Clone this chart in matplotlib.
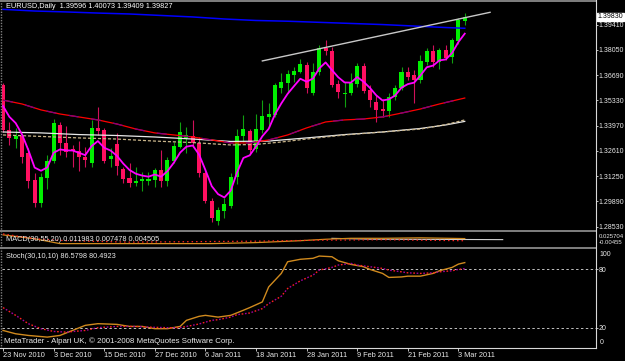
import matplotlib
matplotlib.use("Agg")
import matplotlib.pyplot as plt
from matplotlib.lines import Line2D

plt.rcParams['font.family'] = ['Liberation Sans', 'DejaVu Sans']

W, H = 625, 361
FS = 5.3
FS_AX = 5.0

# EURUSD daily, 23 Nov 2010 .. 4 Mar 2011
date_ticks = [0, 8, 16, 24, 32, 40, 48, 56, 64, 72]
date_labels = ["23 Nov 2010", "3 Dec 2010", "15 Dec 2010", "27 Dec 2010", "6 Jan 2011",
               "18 Jan 2011", "28 Jan 2011", "9 Feb 2011", "21 Feb 2011", "3 Mar 2011"]

opens = [1.3616, 1.3374, 1.3325, 1.3341, 1.3250, 1.3104, 1.2980, 1.3115, 1.3207, 1.3401,
         1.3304, 1.3271, 1.3260, 1.3228, 1.3196, 1.3385, 1.3374, 1.3217, 1.3298, 1.3164,
         1.3115, 1.3088, 1.3099, 1.3099, 1.3104, 1.3158, 1.3099, 1.3207, 1.3282, 1.3331,
         1.3341, 1.3304, 1.3142, 1.2991, 1.2883, 1.2937, 1.2964, 1.3120, 1.3341, 1.3368,
         1.3271, 1.3374, 1.3444, 1.3455, 1.3600, 1.3627, 1.3670, 1.3686, 1.3724, 1.3573,
         1.3686, 1.3816, 1.3800, 1.3622, 1.3568, 1.3573, 1.3622, 1.3719, 1.3589, 1.3525,
         1.3487, 1.3476, 1.3552, 1.3600, 1.3686, 1.3670, 1.3643, 1.3740, 1.3800, 1.3740,
         1.3805, 1.3767, 1.3853, 1.3960]
highs = [1.3627, 1.3417, 1.3385, 1.3347, 1.3277, 1.3142, 1.3142, 1.3239, 1.3433, 1.3417,
         1.3395, 1.3293, 1.3314, 1.3282, 1.3428, 1.3498, 1.3385, 1.3277, 1.3358, 1.3174,
         1.3196, 1.3174, 1.3147, 1.3147, 1.3169, 1.3266, 1.3228, 1.3309, 1.3417, 1.3390,
         1.3428, 1.3336, 1.3158, 1.3007, 1.2959, 1.3007, 1.3142, 1.3379, 1.3455, 1.3379,
         1.3460, 1.3535, 1.3519, 1.3627, 1.3681, 1.3697, 1.3713, 1.3756, 1.3740, 1.3735,
         1.3832, 1.3859, 1.3821, 1.3643, 1.3632, 1.3681, 1.3735, 1.3735, 1.3616, 1.3562,
         1.3541, 1.3573, 1.3616, 1.3713, 1.3713, 1.3697, 1.3778, 1.3816, 1.3832, 1.3816,
         1.3832, 1.3870, 1.3977, 1.4007]
lows = [1.3363, 1.3293, 1.3277, 1.3196, 1.3061, 1.2959, 1.2959, 1.3056, 1.3196, 1.3239,
        1.3228, 1.3174, 1.3153, 1.3174, 1.3174, 1.3347, 1.3196, 1.3174, 1.3131, 1.3088,
        1.3066, 1.3072, 1.3045, 1.3077, 1.3066, 1.3066, 1.3072, 1.3196, 1.3277, 1.3250,
        1.3282, 1.3120, 1.2980, 1.2878, 1.2862, 1.2899, 1.2953, 1.3083, 1.3309, 1.3250,
        1.3255, 1.3358, 1.3390, 1.3444, 1.3573, 1.3573, 1.3632, 1.3681, 1.3573, 1.3562,
        1.3670, 1.3778, 1.3605, 1.3546, 1.3498, 1.3562, 1.3605, 1.3573, 1.3498, 1.3417,
        1.3444, 1.3444, 1.3535, 1.3589, 1.3643, 1.3519, 1.3627, 1.3724, 1.3713, 1.3703,
        1.3751, 1.3735, 1.3837, 1.3941]
closes = [1.3374, 1.3331, 1.3341, 1.3228, 1.3099, 1.2980, 1.3120, 1.3207, 1.3411, 1.3304,
          1.3255, 1.3260, 1.3228, 1.3212, 1.3385, 1.3368, 1.3207, 1.3234, 1.3180, 1.3110,
          1.3088, 1.3099, 1.3110, 1.3110, 1.3158, 1.3099, 1.3212, 1.3287, 1.3363, 1.3347,
          1.3304, 1.3142, 1.2991, 1.2899, 1.2943, 1.2975, 1.3120, 1.3341, 1.3379, 1.3266,
          1.3379, 1.3449, 1.3460, 1.3616, 1.3632, 1.3676, 1.3692, 1.3729, 1.3600, 1.3686,
          1.3816, 1.3800, 1.3616, 1.3579, 1.3573, 1.3627, 1.3719, 1.3584, 1.3535, 1.3482,
          1.3476, 1.3552, 1.3600, 1.3686, 1.3659, 1.3643, 1.3746, 1.3800, 1.3740, 1.3805,
          1.3762, 1.3859, 1.3967, 1.3983]

# magenta fast moving average, one value per bar
ma_fast = [1.3503, 1.3445, 1.3411, 1.3350, 1.3266, 1.3171, 1.3154, 1.3172, 1.3251, 1.3269,
           1.3264, 1.3263, 1.3251, 1.3238, 1.3287, 1.3314, 1.3278, 1.3263, 1.3235, 1.3193,
           1.3158, 1.3138, 1.3128, 1.3122, 1.3134, 1.3122, 1.3152, 1.3197, 1.3252, 1.3284,
           1.3290, 1.3241, 1.3158, 1.3071, 1.3028, 1.3010, 1.3047, 1.3145, 1.3223, 1.3237,
           1.3285, 1.3340, 1.3380, 1.3458, 1.3517, 1.3569, 1.3610, 1.3650, 1.3634, 1.3651,
           1.3706, 1.3738, 1.3697, 1.3658, 1.3630, 1.3629, 1.3659, 1.3634, 1.3601, 1.3561,
           1.3533, 1.3539, 1.3560, 1.3602, 1.3621, 1.3629, 1.3668, 1.3712, 1.3721, 1.3749,
           1.3754, 1.3789, 1.3848, 1.3893]

# slow averages, sampled bars
ma_red_idx = [0, 3, 6, 9, 12, 15, 18, 21, 24, 27, 30, 33, 36, 39, 42, 45, 48, 51, 54, 57,
              60, 63, 66, 69, 73]
ma_red = [1.3535, 1.3514, 1.3482, 1.3460, 1.3444, 1.3428, 1.3406, 1.3379, 1.3358, 1.3347,
          1.3336, 1.3320, 1.3304, 1.3304, 1.3320, 1.3347, 1.3385, 1.3417, 1.3428, 1.3433,
          1.3444, 1.3465, 1.3487, 1.3514, 1.3546]
ma_white_idx = [0, 6, 12, 18, 24, 30, 36, 42, 48, 54, 60, 66, 70, 73]
ma_white = [1.3363, 1.3358, 1.3349, 1.3344, 1.3336, 1.3325, 1.3312, 1.3314, 1.3331, 1.3349,
            1.3363, 1.3382, 1.3401, 1.3420]
ma_tan_idx = [0, 6, 12, 18, 24, 30, 36, 40, 44, 48, 54, 60, 66, 70, 73]
ma_tan = [1.3347, 1.3339, 1.3331, 1.3325, 1.3314, 1.3306, 1.3293, 1.3296, 1.3309, 1.3325,
          1.3347, 1.3363, 1.3379, 1.3403, 1.3428]
ma_blue_idx = [0, 5, 10, 15, 20, 25, 30, 35, 40, 45, 50, 55, 60, 65, 70, 73]
ma_blue = [1.4024, 1.4015, 1.4010, 1.4004, 1.3999, 1.3991, 1.3983, 1.3972, 1.3964, 1.3960,
           1.3954, 1.3948, 1.3942, 1.3934, 1.3926, 1.3922]

trend_idx = [41, 77]
trend_px = [1.3746, 1.4008]

price_ticks = [1.28530, 1.29890, 1.31250, 1.32610, 1.33970, 1.35330, 1.36690, 1.38050, 1.39410]

macd_idx = [0, 5, 9, 15, 25, 33, 40, 47, 51, 55, 60, 66, 73]
macd_main = [0.0197, 0.0116, 0.0015, 0.0015, 0.0015, 0.0015, 0.0036, 0.0076, 0.0106, 0.0126,
             0.0126, 0.0136, 0.0120]
macd_sig_idx = [0, 5, 10, 20, 30, 40, 50, 60, 73]
macd_sig = [0.0217, 0.0116, 0.0076, 0.0046, 0.0056, 0.0066, 0.0086, 0.0096, 0.0075]
macd_lvl_idx = [52, 58, 79]
macd_lvl = [0.0125, 0.0108, 0.0098]

stoch_idx = [0, 2, 4, 7, 9, 11, 13, 15, 18, 20, 22, 24, 26, 28, 29, 31, 32, 34, 36, 38,
             39, 41, 42, 44, 45, 47, 49, 50, 52, 53, 55, 57, 58, 60, 61, 63, 64, 66, 68, 69,
             71, 72, 73]
stoch_main = [17.4, 14, 12.3, 10.6, 12.3, 17.4, 22.6, 24.3, 23.6, 21.5, 21.5, 19.2, 19.2, 21.5,
              27.7, 31.8, 32.8, 31, 32.8, 38, 40.7, 46.5, 61.8, 75.6, 87.5, 90, 91, 93.3, 92.6,
              88.5, 84.8, 82.4, 79.7, 75.6, 71.5, 72, 72.8, 72.8, 75.6, 78.3, 81.7, 85.1, 86.6]
stoch_sig_idx = [0, 2, 4, 6, 8, 10, 13, 15, 18, 21, 23, 26, 28, 31, 33, 34, 36, 37, 39, 41,
                 42, 44, 45, 47, 49, 50, 52, 53, 55, 56, 58, 60, 61, 63, 64, 66, 68, 69, 71, 72, 73]
stoch_sig = [40.7, 32.8, 24.3, 19.2, 16.4, 15.7, 17.4, 20.2, 21.5, 21.5, 20.8, 20.2, 20.2, 24,
             27.7, 28.4, 31, 33.5, 35.2, 39.7, 44.8, 52.3, 60.2, 68, 73.8, 79, 81.7, 84.1, 85.8,
             84.1, 82.4, 80.7, 79, 77.2, 76.2, 75.6, 76.2, 77.2, 78.3, 79.7, 80.5]

BULL, BULL_WICK = '#00f000', '#10a010'
BEAR, BEAR_WICK = '#ff1060', '#d0105a'
XLIM = (-0.16, 93.67)

fig = plt.figure(figsize=(W / 100, H / 100), dpi=100, facecolor='black')


def px_axes(x0, y0, x1, y1):
    a = fig.add_axes([x0 / W, 1 - y1 / H, (x1 - x0) / W, (y1 - y0) / H])
    a.set_facecolor('black')
    for s in a.spines.values():
        s.set_visible(False)
    a.set_xlim(*XLIM)
    a.set_xticks([])
    a.set_yticks([])
    return a


ax = px_axes(2, 2, 595.5, 230)
ax_m = px_axes(2, 232, 595.5, 246.5)
ax_s = px_axes(2, 249, 595.5, 347.5)

# candles
n = len(closes)
xs = list(range(n))
up = [c >= o for o, c in zip(opens, closes)]
ax.vlines(xs, lows, highs, colors=[BULL_WICK if u else BEAR_WICK for u in up], lw=0.8, zorder=2)
bottoms = [min(o, c) for o, c in zip(opens, closes)]
heights = [max(abs(c - o), 0.0005) for o, c in zip(opens, closes)]
ax.bar(xs, heights, bottom=bottoms, width=0.64, color=[BULL if u else BEAR for u in up],
       linewidth=0, zorder=3)

# moving averages
ax.plot(ma_white_idx, ma_white, color='#e8e8e8', lw=0.9, zorder=4)
ax.plot(ma_tan_idx, ma_tan, color='#c8b48a', lw=0.9, ls=(0, (2.5, 1.5)), zorder=4)
ax.plot(ma_red_idx, ma_red, color='#ff0000', lw=0.9, zorder=4)
ax.plot(ma_red_idx, ma_red, color='#800080', lw=0.9, ls=(0, (8, 10)), zorder=4)
ax.plot(ma_blue_idx, ma_blue, color='#0000ff', lw=1.1, zorder=4)
ax.plot(xs, ma_fast, color='#ff00ff', lw=1.3, zorder=5)
ax.plot(trend_idx, trend_px, color='#c8c8c8', lw=1.0, zorder=5)
ax.set_ylim(1.28347, 1.40636)

ax.yaxis.tick_right()
ax.set_yticks(price_ticks)
ax.set_yticklabels(['%.5f' % p for p in price_ticks])
ax.tick_params(axis='y', colors='#e0e0e0', labelcolor='#e8e8e8', labelsize=FS_AX,
               length=1.6, width=0.6, pad=0.6)
ax.annotate('%.5f' % closes[-1], xy=(1, closes[-1]), xycoords=('axes fraction', 'data'),
            xytext=(1.5, 0), textcoords='offset points', ha='left', va='center',
            fontsize=FS_AX, color='black',
            bbox=dict(boxstyle='square,pad=0.12', fc='white', ec='white'))
fig.text(6 / W, 1 - 7 / H, 'EURUSD,Daily  1.39596 1.40073 1.39409 1.39827',
         color='white', fontsize=FS, va='center', ha='left')

# MACD panel
ax_m.plot(macd_lvl_idx, macd_lvl, color='#d0d0d0', lw=0.8)
ax_m.plot(macd_idx, macd_main, color='#d08a1e', lw=0.9)
ax_m.plot(macd_sig_idx, macd_sig, color='#ff2020', lw=0.9, ls=(0, (1.2, 2.4)))
ax_m.set_ylim(-0.0045, 0.0257)
fig.text(6 / W, 1 - 239.5 / H, 'MACD(30,55,20) 0.011983 0.007478 0.004505',
         color='#e8e8e8', fontsize=FS, va='center', ha='left')
fig.text(598.5 / W, 1 - 236 / H, '0.025704', color='#e8e8e8', fontsize=4.3, va='center')
fig.text(598.5 / W, 1 - 242.5 / H, '-0.00455', color='#e8e8e8', fontsize=4.3, va='center')

# Stochastic panel
for lvl in (20, 80):
    ax_s.axhline(lvl, color='#c0c0c0', lw=0.7, ls=(0, (2.5, 2.5)))
ax_s.plot(stoch_idx, stoch_main, color='#d08a1e', lw=1.0)
ax_s.plot(stoch_sig_idx, stoch_sig, color='#ff2020', lw=1.0, ls=(0, (1.2, 3.6)))
ax_s.plot(stoch_sig_idx, stoch_sig, color='#a000a0', lw=1.0, ls=(2.4, (1.2, 3.6)))
ax_s.set_ylim(0, 100.5)
ax_s.yaxis.tick_right()
ax_s.set_yticks([20, 80])
ax_s.set_yticklabels(['20', '80'])
ax_s.tick_params(axis='y', colors='#e0e0e0', labelcolor='#e8e8e8', labelsize=FS_AX,
                 length=1.6, width=0.6, pad=0.6)
for val, dy in ((100, -3.6), (0, 3.6)):
    ax_s.annotate(str(val), xy=(1, val), xycoords=('axes fraction', 'data'),
                  xytext=(2.7, dy), textcoords='offset points', ha='left', va='center',
                  fontsize=FS_AX, color='#e8e8e8')
fig.text(6 / W, 1 - 257 / H, 'Stoch(30,10,10) 86.5798 80.4923',
         color='#e8e8e8', fontsize=FS, va='center', ha='left')
fig.text(4 / W, 1 - 341 / H, 'MetaTrader - Alpari UK, \u00a9 2001-2008 MetaQuotes Software Corp.',
         color='#e8e8e8', fontsize=5.7, va='center', ha='left')

ax_s.set_xticks(date_ticks)
ax_s.set_xticklabels(date_labels)
ax_s.tick_params(axis='x', colors='#e0e0e0', labelcolor='#e8e8e8', labelsize=FS,
                 length=2.2, width=0.6, pad=1.2)
for lbl in ax_s.get_xticklabels():
    lbl.set_ha('left')

# frame lines
gray = '#808080'
for yy in (1, 230.5, 247.5):
    fig.add_artist(Line2D([0, 595.5 / W], [1 - yy / H] * 2, color=gray, lw=1.4))
fig.add_artist(Line2D([1.2 / W] * 2, [1, 1 - 347.5 / H], color=gray, lw=1.0, ls=(0, (1, 1))))
fig.add_artist(Line2D([595.5 / W] * 2, [1, 1 - 347.5 / H], color='#d8d8d8', lw=0.8))
fig.add_artist(Line2D([0, 595.5 / W], [1 - 347.5 / H] * 2, color='#d8d8d8', lw=0.8))

fig.savefig('out.png', dpi=100, facecolor='black')
